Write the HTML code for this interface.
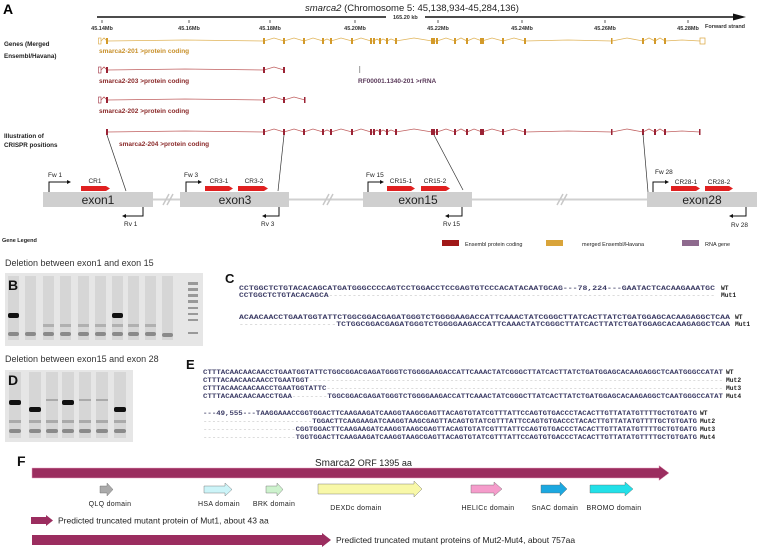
<!DOCTYPE html>
<html><head><meta charset="utf-8"><style>
html,body{margin:0;padding:0;background:#fff;}
svg{display:block;font-family:"Liberation Sans",sans-serif;}
.seq{font-family:"Liberation Mono",monospace;font-size:6.3px;font-weight:bold;fill:#3d3d66;}
.dash{fill:#bbb;font-weight:normal;}
.lab{font-family:"Liberation Mono",monospace;font-size:6.3px;font-weight:bold;fill:#222;}
.tk{font-size:5.5px;font-weight:bold;fill:#333;}
.sm{font-size:6.3px;font-weight:bold;fill:#222;}
.dom{font-size:7px;fill:#222;letter-spacing:0.3px;}
</style></head><body>
<svg width="757" height="547" viewBox="0 0 757 547" xmlns="http://www.w3.org/2000/svg">
<!-- Panel A -->
<text x="3" y="14" font-size="14" font-weight="bold">A</text>
<text x="305" y="11" font-size="9.5" fill="#222"><tspan font-style="italic">smarca2</tspan> (Chromosome 5: 45,138,934-45,284,136)</text>
<line x1="97" y1="17" x2="386" y2="17" stroke="#111" stroke-width="1.5"/>
<text x="393" y="19" class="tk">165.20 kb</text>
<line x1="425" y1="17" x2="735" y2="17" stroke="#111" stroke-width="1.5"/>
<polygon points="733,13.5 746,17 733,20.5" fill="#111"/>
<g stroke="#333" stroke-width="0.8">
<line x1="102" y1="20" x2="102" y2="23"/><line x1="189" y1="20" x2="189" y2="23"/><line x1="270" y1="20" x2="270" y2="23"/><line x1="355" y1="20" x2="355" y2="23"/><line x1="438" y1="20" x2="438" y2="23"/><line x1="522" y1="20" x2="522" y2="23"/><line x1="605" y1="20" x2="605" y2="23"/><line x1="688" y1="20" x2="688" y2="23"/>
</g>
<g class="tk" text-anchor="middle">
<text x="102" y="30">45.14Mb</text><text x="189" y="30">45.16Mb</text><text x="270" y="30">45.18Mb</text><text x="355" y="30">45.20Mb</text><text x="438" y="30">45.22Mb</text><text x="522" y="30">45.24Mb</text><text x="605" y="30">45.26Mb</text><text x="688" y="30">45.28Mb</text>
</g>
<text x="705" y="28" class="tk" font-weight="normal">Forward strand</text>
<g class="sm">
<text x="4" y="46">Genes (Merged</text><text x="4" y="58">Ensembl/Havana)</text>
<text x="4" y="138">Illustration of</text><text x="4" y="147">CRISPR positions</text>
<text x="2" y="242" font-size="5.5">Gene Legend</text>
</g>
<!-- transcript 201 -->
<g transform="translate(0,41)">
<polyline fill="none" stroke="#e0b45a" stroke-width="0.8" points="101,0 104,-3 107,0 185,-1 264,0 274,-3 284,0 294,-3 304,0 313,-3 323,0 327,-2 331,0 341,-3 352,0 361,-3 371,0 374,0 377,-2 380,0 383,-2 387,0 391,-2 396,0 414,-3 432,0 437,0 446,-3 455,0 461,-3 467,0 474,-3 482,0 492,-3 503,0 514,-3 525,0 568,-1 612,0 627,-3 643,0 649,-3 655,0 660,-3 665,0 682,-1 700,0"/>
<rect x="98.5" y="-3" width="2.5" height="6" fill="none" stroke="#d9a43a" stroke-width="0.6"/>
<rect x="700" y="-3" width="5" height="6" fill="none" stroke="#d9a43a" stroke-width="0.7"/>
<g fill="#d39a2a">
<rect x="106" y="-3" width="2" height="6"/><rect x="263" y="-3" width="2" height="6"/><rect x="283" y="-3" width="2" height="6"/><rect x="303" y="-3" width="2" height="6"/><rect x="322" y="-3" width="2" height="6"/><rect x="330" y="-3" width="2" height="6"/><rect x="351" y="-3" width="2" height="6"/><rect x="370" y="-3" width="2" height="6"/><rect x="373" y="-3" width="2" height="6"/><rect x="379" y="-3" width="2" height="6"/><rect x="386" y="-3" width="2" height="6"/><rect x="395" y="-3" width="2" height="6"/><rect x="431" y="-3" width="2" height="6"/><rect x="433" y="-3" width="2" height="6"/><rect x="436" y="-3" width="2" height="6"/><rect x="454" y="-3" width="2" height="6"/><rect x="466" y="-3" width="2" height="6"/><rect x="480" y="-3" width="4" height="6"/><rect x="502" y="-3" width="2" height="6"/><rect x="524" y="-3" width="2" height="6"/><rect x="611" y="-3" width="1.5" height="6"/><rect x="642" y="-3" width="2" height="6"/><rect x="654" y="-3" width="2" height="6"/><rect x="664" y="-3" width="2" height="6"/>
</g>
</g>
<text x="99" y="53" font-size="6.5" font-weight="bold" fill="#c8902a">smarca2-201 &gt;protein coding</text>
<!-- 203 -->
<g transform="translate(0,70)">
<polyline fill="none" stroke="#c06060" stroke-width="0.8" points="101,0 104,-3 107,0 185,-1 264,0 274,-3 284,0"/>
<rect x="98.5" y="-3" width="2.5" height="6" fill="none" stroke="#a03040" stroke-width="0.6"/>
<g fill="#9b2335"><rect x="106" y="-3" width="2" height="6"/><rect x="263" y="-3" width="2" height="6"/><rect x="283" y="-3" width="2" height="6"/></g>
</g>
<text x="99" y="83" font-size="6.5" font-weight="bold" fill="#8b2a2a">smarca2-203 &gt;protein coding</text>
<rect x="359" y="66" width="1.2" height="7" fill="#aaa"/>
<text x="358" y="83" font-size="6.5" font-weight="bold" fill="#5a3a5a">RF00001.1340-201 &gt;rRNA</text>
<!-- 202 -->
<g transform="translate(0,100)">
<polyline fill="none" stroke="#c06060" stroke-width="0.8" points="101,0 104,-3 107,0 185,-1 264,0 274,-3 284,0 294,-3 305,0"/>
<rect x="98.5" y="-3" width="2.5" height="6" fill="none" stroke="#a03040" stroke-width="0.6"/>
<g fill="#9b2335"><rect x="106" y="-3" width="2" height="6"/><rect x="263" y="-3" width="2" height="6"/><rect x="283" y="-3" width="2" height="6"/><rect x="304" y="-3" width="1.5" height="6"/></g>
</g>
<text x="99" y="113" font-size="6.5" font-weight="bold" fill="#8b2a2a">smarca2-202 &gt;protein coding</text>
<!-- 204 -->
<g transform="translate(0,132)">
<polyline fill="none" stroke="#c06060" stroke-width="0.8" points="107,0 185,-1 264,0 274,-3 284,0 294,-3 304,0 313,-3 323,0 327,-2 331,0 341,-3 352,0 361,-3 371,0 374,0 377,-2 380,0 383,-2 387,0 391,-2 396,0 414,-3 432,0 437,0 446,-3 455,0 461,-3 467,0 474,-3 482,0 492,-3 503,0 514,-3 525,0 568,-1 612,0 627,-3 643,0 649,-3 655,0 660,-3 665,0 682,-1 700,0"/>
<g fill="#9b2335">
<rect x="106" y="-3" width="2" height="6"/><rect x="263" y="-3" width="2" height="6"/><rect x="283" y="-3" width="2" height="6"/><rect x="303" y="-3" width="2" height="6"/><rect x="322" y="-3" width="2" height="6"/><rect x="330" y="-3" width="2" height="6"/><rect x="351" y="-3" width="2" height="6"/><rect x="370" y="-3" width="2" height="6"/><rect x="373" y="-3" width="2" height="6"/><rect x="379" y="-3" width="2" height="6"/><rect x="386" y="-3" width="2" height="6"/><rect x="395" y="-3" width="2" height="6"/><rect x="431" y="-3" width="2" height="6"/><rect x="433" y="-3" width="2" height="6"/><rect x="436" y="-3" width="2" height="6"/><rect x="454" y="-3" width="2" height="6"/><rect x="466" y="-3" width="2" height="6"/><rect x="480" y="-3" width="4" height="6"/><rect x="502" y="-3" width="2" height="6"/><rect x="524" y="-3" width="2" height="6"/><rect x="611" y="-3" width="1.5" height="6"/><rect x="642" y="-3" width="2" height="6"/><rect x="654" y="-3" width="2" height="6"/><rect x="664" y="-3" width="2" height="6"/><rect x="699" y="-3" width="1.5" height="6"/>
</g>
</g>
<text x="119" y="146" font-size="6.5" font-weight="bold" fill="#8b2a2a">smarca2-204 &gt;protein coding</text>
<g stroke="#333" stroke-width="0.7">
<line x1="107" y1="135" x2="126" y2="191"/><line x1="284" y1="135" x2="278" y2="191"/><line x1="434" y1="135" x2="463" y2="190"/><line x1="643" y1="134" x2="648" y2="192"/>
</g>
<line x1="150" y1="199.5" x2="650" y2="199.5" stroke="#d0d0d0" stroke-width="2"/>
<g stroke="#c8c8c8" stroke-width="1.5"><line x1="163" y1="205" x2="169" y2="194"/><line x1="167" y1="205" x2="173" y2="194"/><line x1="323" y1="205" x2="329" y2="194"/><line x1="327" y1="205" x2="333" y2="194"/><line x1="557" y1="205" x2="563" y2="194"/><line x1="561" y1="205" x2="567" y2="194"/></g>
<g fill="#cfcfcf">
<rect x="43" y="192" width="110" height="15"/><rect x="180" y="192" width="109" height="15"/><rect x="363" y="192" width="109" height="15"/><rect x="647" y="192" width="110" height="15"/>
</g>
<g font-size="12" fill="#222" text-anchor="middle">
<text x="98" y="204">exon1</text><text x="235" y="204">exon3</text><text x="418" y="204">exon15</text><text x="702" y="204">exon28</text>
</g>
<g fill="#e02020">
<polygon points="81,186 106,186 110,188.5 106,191 81,191"/>
<polygon points="205,186 229,186 233,188.5 229,191 205,191"/>
<polygon points="238,186 264,186 268,188.5 264,191 238,191"/>
<polygon points="387,186 411,186 415,188.5 411,191 387,191"/>
<polygon points="421,186 446,186 450,188.5 446,191 421,191"/>
<polygon points="671,186 696,186 700,188.5 696,191 671,191"/>
<polygon points="705,186 729,186 733,188.5 729,191 705,191"/>
</g>
<g font-size="6.5" fill="#222" text-anchor="middle">
<text x="95" y="183">CR1</text><text x="219" y="183">CR3-1</text><text x="254" y="183">CR3-2</text><text x="401" y="183">CR15-1</text><text x="435" y="183">CR15-2</text><text x="686" y="184">CR28-1</text><text x="719" y="184">CR28-2</text>
</g>
<g fill="none" stroke="#111" stroke-width="1">
<polyline points="49,192 49,182 67,182"/><polyline points="186,192 186,182 198,182"/><polyline points="368,192 368,182 380,182"/><polyline points="653,192 653,182 665,182"/>
<polyline points="143,207 143,216 126,216"/><polyline points="279,207 279,216 266,216"/><polyline points="462,207 462,216 449,216"/><polyline points="746,207 746,216 733,216"/>
</g>
<g fill="#111">
<polygon points="67,180 71,182 67,184"/><polygon points="198,180 202,182 198,184"/><polygon points="380,180 384,182 380,184"/><polygon points="665,180 669,182 665,184"/>
<polygon points="126,214 122,216 126,218"/><polygon points="266,214 262,216 266,218"/><polygon points="449,214 445,216 449,218"/><polygon points="733,214 729,216 733,218"/>
</g>
<g font-size="6.5" fill="#222">
<text x="48" y="177">Fw 1</text><text x="184" y="177">Fw 3</text><text x="366" y="177">Fw 15</text><text x="655" y="174">Fw 28</text>
<text x="124" y="226">Rv 1</text><text x="261" y="226">Rv 3</text><text x="443" y="226">Rv 15</text><text x="731" y="227">Rv 28</text>
</g>
<rect x="442" y="240" width="17" height="6" fill="#a01818"/>
<text x="465" y="246" font-size="5.5" fill="#222">Ensembl protein coding</text>
<rect x="546" y="240" width="17" height="6" fill="#d9a43a"/>
<text x="582" y="246" font-size="5.5" fill="#222">merged Ensembl/Havana</text>
<rect x="682" y="240" width="17" height="6" fill="#8e6a8e"/>
<text x="705" y="246" font-size="5.5" fill="#222">RNA gene</text>

<!-- Panel B -->
<text x="5" y="266" font-size="9" fill="#333">Deletion between exon1 and exon 15</text>
<rect x="5" y="273" width="198" height="73" fill="#e6e6e6"/>
<g fill="#d6d6d6">
<rect x="8" y="276" width="11" height="64"/><rect x="25" y="276" width="11" height="64"/><rect x="43" y="276" width="11" height="64"/><rect x="60" y="276" width="11" height="64"/><rect x="78" y="276" width="11" height="64"/><rect x="95" y="276" width="11" height="64"/><rect x="112" y="276" width="11" height="64"/><rect x="128" y="276" width="11" height="64"/><rect x="145" y="276" width="11" height="64"/><rect x="162" y="276" width="11" height="64"/>
</g>
<g fill="#8a8a8a">
<rect x="8" y="332" width="11" height="4" rx="2"/><rect x="25" y="332" width="11" height="4" rx="2"/><rect x="43" y="332" width="11" height="4" rx="2"/><rect x="60" y="332" width="11" height="4" rx="2"/><rect x="78" y="332" width="11" height="4" rx="2"/><rect x="95" y="332" width="11" height="4" rx="2"/><rect x="112" y="332" width="11" height="4" rx="2"/><rect x="128" y="332" width="11" height="4" rx="2"/><rect x="145" y="332" width="11" height="4" rx="2"/><rect x="162" y="333" width="11" height="4" rx="2"/>
</g>
<g fill="#b0b0b0">
<rect x="43" y="324" width="11" height="3"/><rect x="60" y="324" width="11" height="3"/><rect x="78" y="324" width="11" height="3"/><rect x="95" y="324" width="11" height="3"/><rect x="128" y="324" width="11" height="3"/><rect x="145" y="324" width="11" height="3"/><rect x="112" y="324" width="11" height="3"/>
</g>
<rect x="8" y="313" width="11" height="5" rx="2" fill="#111"/><rect x="112" y="313" width="11" height="5" rx="2" fill="#111"/>
<g fill="#999"><rect x="188" y="282" width="10" height="3"/><rect x="188" y="288" width="10" height="3"/><rect x="188" y="294" width="10" height="3"/><rect x="188" y="300" width="10" height="3"/><rect x="188" y="307" width="10" height="2"/><rect x="188" y="313" width="10" height="2"/><rect x="188" y="319" width="10" height="2"/><rect x="188" y="332" width="10" height="2"/></g>
<text x="8" y="290" font-size="14" font-weight="bold" fill="#111">B</text>

<!-- Panel D -->
<text x="5" y="362" font-size="9" fill="#333">Deletion between exon15 and exon 28</text>
<rect x="5" y="370" width="128" height="72" fill="#e6e6e6"/>
<g fill="#d6d6d6">
<rect x="9" y="372" width="12" height="66"/><rect x="29" y="372" width="12" height="66"/><rect x="46" y="372" width="12" height="66"/><rect x="62" y="372" width="12" height="66"/><rect x="79" y="372" width="12" height="66"/><rect x="96" y="372" width="12" height="66"/><rect x="114" y="372" width="12" height="66"/>
</g>
<g fill="#8a8a8a">
<rect x="9" y="429" width="12" height="4" rx="2"/><rect x="29" y="429" width="12" height="4" rx="2"/><rect x="46" y="429" width="12" height="4" rx="2"/><rect x="62" y="429" width="12" height="4" rx="2"/><rect x="79" y="429" width="12" height="4" rx="2"/><rect x="96" y="429" width="12" height="4" rx="2"/><rect x="114" y="429" width="12" height="4" rx="2"/>
</g>
<g fill="#aaa">
<rect x="9" y="420" width="12" height="3"/><rect x="29" y="420" width="12" height="3"/><rect x="46" y="420" width="12" height="3"/><rect x="62" y="420" width="12" height="3"/><rect x="79" y="420" width="12" height="3"/><rect x="96" y="420" width="12" height="3"/><rect x="114" y="420" width="12" height="3"/>
<rect x="46" y="399" width="12" height="2"/><rect x="79" y="399" width="12" height="2"/><rect x="96" y="399" width="12" height="2"/>
</g>
<g fill="#111">
<rect x="9" y="400" width="12" height="5" rx="2"/><rect x="29" y="407" width="12" height="5" rx="2"/><rect x="62" y="400" width="12" height="5" rx="2"/><rect x="114" y="407" width="12" height="5" rx="2"/>
</g>
<text x="8" y="385" font-size="14" font-weight="bold" fill="#111">D</text>

<!-- Panel C -->
<text x="225" y="283" font-size="13" font-weight="bold" fill="#111">C</text>
<text x="239" y="290" class="seq" textLength="476" lengthAdjust="spacingAndGlyphs">CCTGGCTCTGTACACAGCATGATGGGCCCCAGTCCTGGACCTCCGAGTGTCCCACATACAATGCAG---78,224---GAATACTCACAAGAAATGC</text>
<text x="721" y="290" class="lab">WT</text>
<text x="239" y="297" class="seq" textLength="476" lengthAdjust="spacingAndGlyphs">CCTGGCTCTGTACACAGCA<tspan class="dash">----------------------------------------------------------------------------------</tspan></text>
<text x="721" y="297" class="lab">Mut1</text>
<text x="239" y="319" class="seq" textLength="491" lengthAdjust="spacingAndGlyphs">ACAACAACCTGAATGGTATTCTGGCGGACGAGATGGGTCTGGGGAAGACCATTCAAACTATCGGGCTTATCACTTATCTGATGGAGCACAAGAGGCTCAA</text>
<text x="735" y="319" class="lab">WT</text>
<text x="239" y="326" class="seq" textLength="491" lengthAdjust="spacingAndGlyphs"><tspan class="dash">--------------------</tspan>TCTGGCGGACGAGATGGGTCTGGGGAAGACCATTCAAACTATCGGGCTTATCACTTATCTGATGGAGCACAAGAGGCTCAA</text>
<text x="735" y="326" class="lab">Mut1</text>

<!-- Panel E -->
<text x="186" y="369" font-size="13" font-weight="bold" fill="#111">E</text>
<text x="203" y="374" class="seq" textLength="520" lengthAdjust="spacingAndGlyphs">CTTTACAACAACAACCTGAATGGTATTCTGGCGGACGAGATGGGTCTGGGGAAGACCATTCAAACTATCGGGCTTATCACTTATCTGATGGAGCACAAGAGGCTCAATGGGCCATAT</text>
<text x="726" y="374" class="lab">WT</text>
<text x="203" y="382" class="seq" textLength="520" lengthAdjust="spacingAndGlyphs">CTTTACAACAACAACCTGAATGGT<tspan class="dash">----------------------------------------------------------------------------------------------</tspan></text>
<text x="726" y="382" class="lab">Mut2</text>
<text x="203" y="390" class="seq" textLength="520" lengthAdjust="spacingAndGlyphs">CTTTACAACAACAACCTGAATGGTATTC<tspan class="dash">------------------------------------------------------------------------------------------</tspan></text>
<text x="726" y="390" class="lab">Mut3</text>
<text x="203" y="398" class="seq" textLength="520" lengthAdjust="spacingAndGlyphs">CTTTACAACAACAACCTGAA<tspan class="dash">--------</tspan>TGGCGGACGAGATGGGTCTGGGGAAGACCATTCAAACTATCGGGCTTATCACTTATCTGATGGAGCACAAGAGGCTCAATGGGCCATAT</text>
<text x="726" y="398" class="lab">Mut4</text>
<text x="203" y="415" class="seq" textLength="494" lengthAdjust="spacingAndGlyphs">---49,555---TAAGGAAACCGGTGGACTTCAAGAAGATCAAGGTAAGCGAGTTACAGTGTATCGTTTATTCCAGTGTGACCCTACACTTGTTATATGTTTTGCTGTGATG</text>
<text x="700" y="415" class="lab">WT</text>
<text x="203" y="423" class="seq" textLength="494" lengthAdjust="spacingAndGlyphs"><tspan class="dash">-------------------------</tspan>TGGACTTCAAGAAGATCAAGGTAAGCGAGTTACAGTGTATCGTTTATTCCAGTGTGACCCTACACTTGTTATATGTTTTGCTGTGATG</text>
<text x="700" y="423" class="lab">Mut2</text>
<text x="203" y="431" class="seq" textLength="494" lengthAdjust="spacingAndGlyphs"><tspan class="dash">---------------------</tspan>CGGTGGACTTCAAGAAGATCAAGGTAAGCGAGTTACAGTGTATCGTTTATTCCAGTGTGACCCTACACTTGTTATATGTTTTGCTGTGATG</text>
<text x="700" y="431" class="lab">Mut3</text>
<text x="203" y="439" class="seq" textLength="494" lengthAdjust="spacingAndGlyphs"><tspan class="dash">---------------------</tspan>TGGTGGACTTCAAGAAGATCAAGGTAAGCGAGTTACAGTGTATCGTTTATTCCAGTGTGACCCTACACTTGTTATATGTTTTGCTGTGATG</text>
<text x="700" y="439" class="lab">Mut4</text>

<!-- Panel F -->
<text x="17" y="466" font-size="14" font-weight="bold" fill="#111">F</text>
<text x="315" y="466" font-size="10" fill="#222">Smarca2 <tspan font-size="9">ORF 1395 aa</tspan></text>
<polygon points="32,468 659,468 659,465.5 669,473 659,480.5 659,478 32,478" fill="#9b2d5f" stroke="#e8a0c0" stroke-width="0.5"/>
<g stroke="#666" stroke-width="0.4">
<polygon points="100,486 107,486 107,483 113,489.5 107,496 107,493 100,493" fill="#aaaaaa"/>
<polygon points="204,486 225,486 225,483 232,489.5 225,496 225,493 204,493" fill="#ccf4f8"/>
<polygon points="266,486 277,486 277,483 283,489.5 277,496 277,493 266,493" fill="#cdf2cd"/>
<polygon points="318,484 414,484 414,481 422,489 414,497 414,494 318,494" fill="#f8f8a8"/>
<polygon points="471,485 494,485 494,482 502,489 494,496 494,493 471,493" fill="#f59ccb"/>
<polygon points="541,485 560,485 560,482 567,489 560,496 560,493 541,493" fill="#1ca8e0"/>
<polygon points="590,485 625,485 625,482 633,489 625,496 625,493 590,493" fill="#22e0e8"/>
</g>
<g class="dom" text-anchor="middle">
<text x="110" y="506">QLQ domain</text><text x="219" y="506">HSA domain</text><text x="274" y="506">BRK domain</text><text x="356" y="510">DEXDc domain</text><text x="488" y="510">HELICc domain</text><text x="555" y="510">SnAC domain</text><text x="614" y="510">BROMO domain</text>
</g>
<polygon points="31,517 46,517 46,515 53,520.5 46,526 46,524 31,524" fill="#9b2d5f"/>
<text x="58" y="523.5" font-size="8.5" fill="#222">Predicted truncated mutant protein of Mut1, about 43 aa</text>
<polygon points="32,535 322,535 322,533 331,540 322,547 322,545 32,545" fill="#9b2d5f"/>
<text x="336" y="543" font-size="8.5" fill="#222">Predicted truncated mutant proteins of Mut2-Mut4, about 757aa</text>
</svg>
</body></html>
